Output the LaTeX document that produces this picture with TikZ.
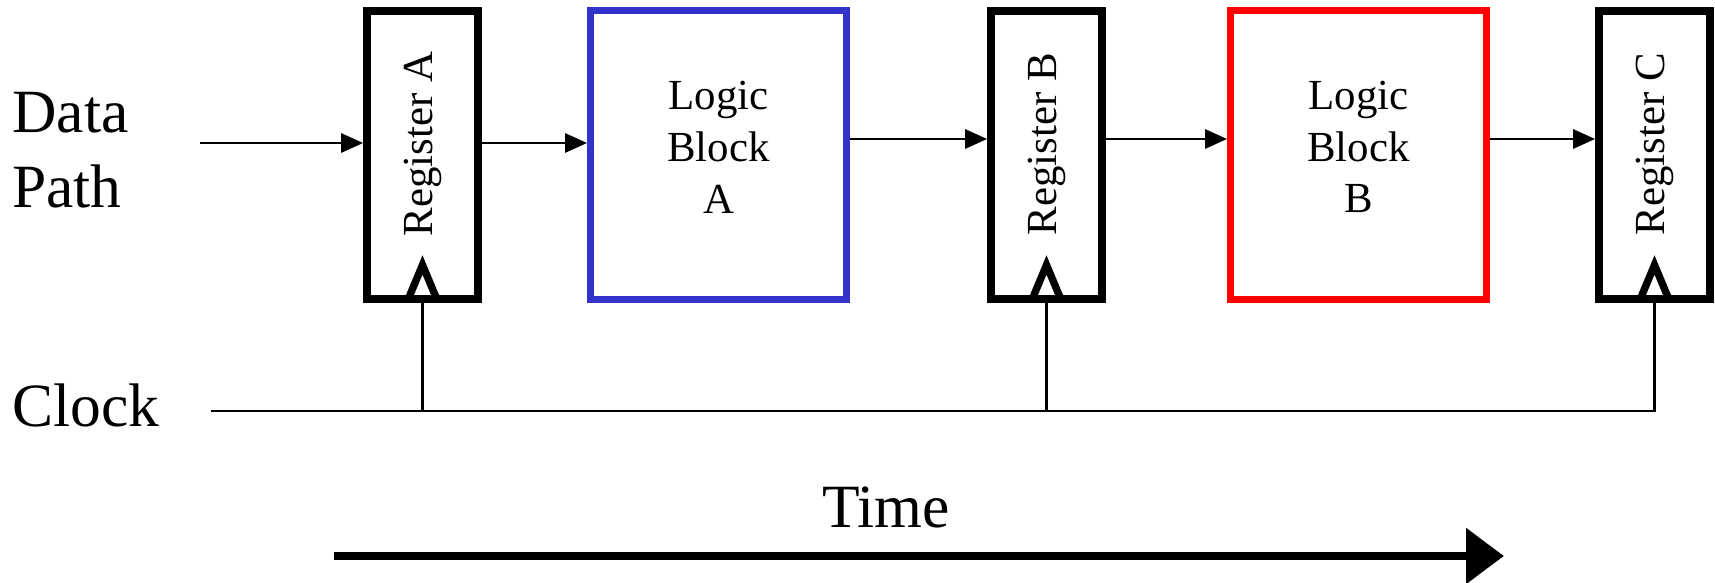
\documentclass[tikz,border=0pt]{standalone}
\usepackage{fontspec}
\setmainfont{Liberation Serif}
\usetikzlibrary{arrows.meta,positioning}
\definecolor{blockblue}{HTML}{3333CC}
\definecolor{blockred}{HTML}{FF0000}

\begin{document}
\begin{tikzpicture}[x=0.02cm,y=0.02cm,
        register/.style={draw,line width=4.5pt,minimum width=2.22cm,minimum height=5.76cm,inner sep=0pt},
        logic/.style={draw,line width=4pt,minimum width=5.12cm,minimum height=5.78cm,inner sep=0pt},
        boxtext/.style={font=\fontsize{24.4}{29.5}\selectfont,align=center,inner sep=0pt},
        regtext/.style={boxtext,rotate=90},
        bigtext/.style={font=\fontsize{35}{42.5}\selectfont,inner sep=0pt},
        dataarrow/.style={line width=1.1pt,-{Triangle[length=12.5pt,width=11pt]}},
        clockline/.style={line width=1.5pt},
        clocktri/.style={line width=4.2pt},
        timearrow/.style={line width=5pt,-{Triangle[length=21.5pt,width=30.6pt]}}]
        \useasboundingbox (0,0) rectangle (1715,582);
        % registers and logic blocks
        \node[register] (ra) at (422.5,427) {};
        \node[logic, draw=blockblue] (la) at (718.5,427) {};
        \node[register] (rb) at (1046.5,427) {};
        \node[logic, draw=blockred] (lb) at (1358.5,427) {};
        \node[register] (rc) at (1654.5,427) {};
        \node[regtext] (ta) at ([yshift=0.22cm]ra.center) {Register A};
        \node[regtext] (tb) at ([yshift=0.22cm]rb.center) {Register B};
        \node[regtext] (tc) at ([yshift=0.22cm]rc.center) {Register C};
        \node[boxtext] (tla) at ([yshift=0.16cm]la.center) {Logic\\Block\\A};
        \node[boxtext] (tlb) at ([yshift=0.16cm]lb.center) {Logic\\Block\\B};
        % labels
        \node[bigtext, align=left, anchor=north west] (data) at (12,490) {Data\\Path};
        \node[bigtext, anchor=base west] (clock) at (12,155) {Clock};
        \node[bigtext, anchor=base] (time) at (886,54) {Time};
        % data path
        \coordinate (din) at (200,439);
        \draw[dataarrow] (din) -- (din -| ra.west);
        \draw[dataarrow] ([yshift=0.24cm]ra.east) -- ([yshift=0.24cm]la.west);
        \draw[dataarrow] ([yshift=0.32cm]la.east) -- ([yshift=0.32cm]rb.west);
        \draw[dataarrow] ([yshift=0.32cm]rb.east) -- ([yshift=0.32cm]lb.west);
        \draw[dataarrow] ([yshift=0.32cm]lb.east) -- ([yshift=0.32cm]rc.west);
        % clock
        \coordinate (clk) at (211,171);
        \draw[clockline] (clk) -- (clk -| rc.south) -- (rc.south);
        \draw[clockline] (ra.south) -- (ra.south |- clk);
        \draw[clockline] (rb.south) -- (rb.south |- clk);
        \draw[clocktri] ([xshift=-0.3cm,yshift=0.04cm]ra.south) -- ([yshift=0.76cm]ra.south) -- ([xshift=0.3cm,yshift=0.04cm]ra.south);
        \draw[clocktri] ([xshift=-0.3cm,yshift=0.04cm]rb.south) -- ([yshift=0.76cm]rb.south) -- ([xshift=0.3cm,yshift=0.04cm]rb.south);
        \draw[clocktri] ([xshift=-0.3cm,yshift=0.04cm]rc.south) -- ([yshift=0.76cm]rc.south) -- ([xshift=0.3cm,yshift=0.04cm]rc.south);
        % time
        \coordinate (t0) at (334,26);
        \coordinate (t1) at (1504,26);
        \draw[timearrow] (t0) -- (t1);
\end{tikzpicture}
\end{document}
